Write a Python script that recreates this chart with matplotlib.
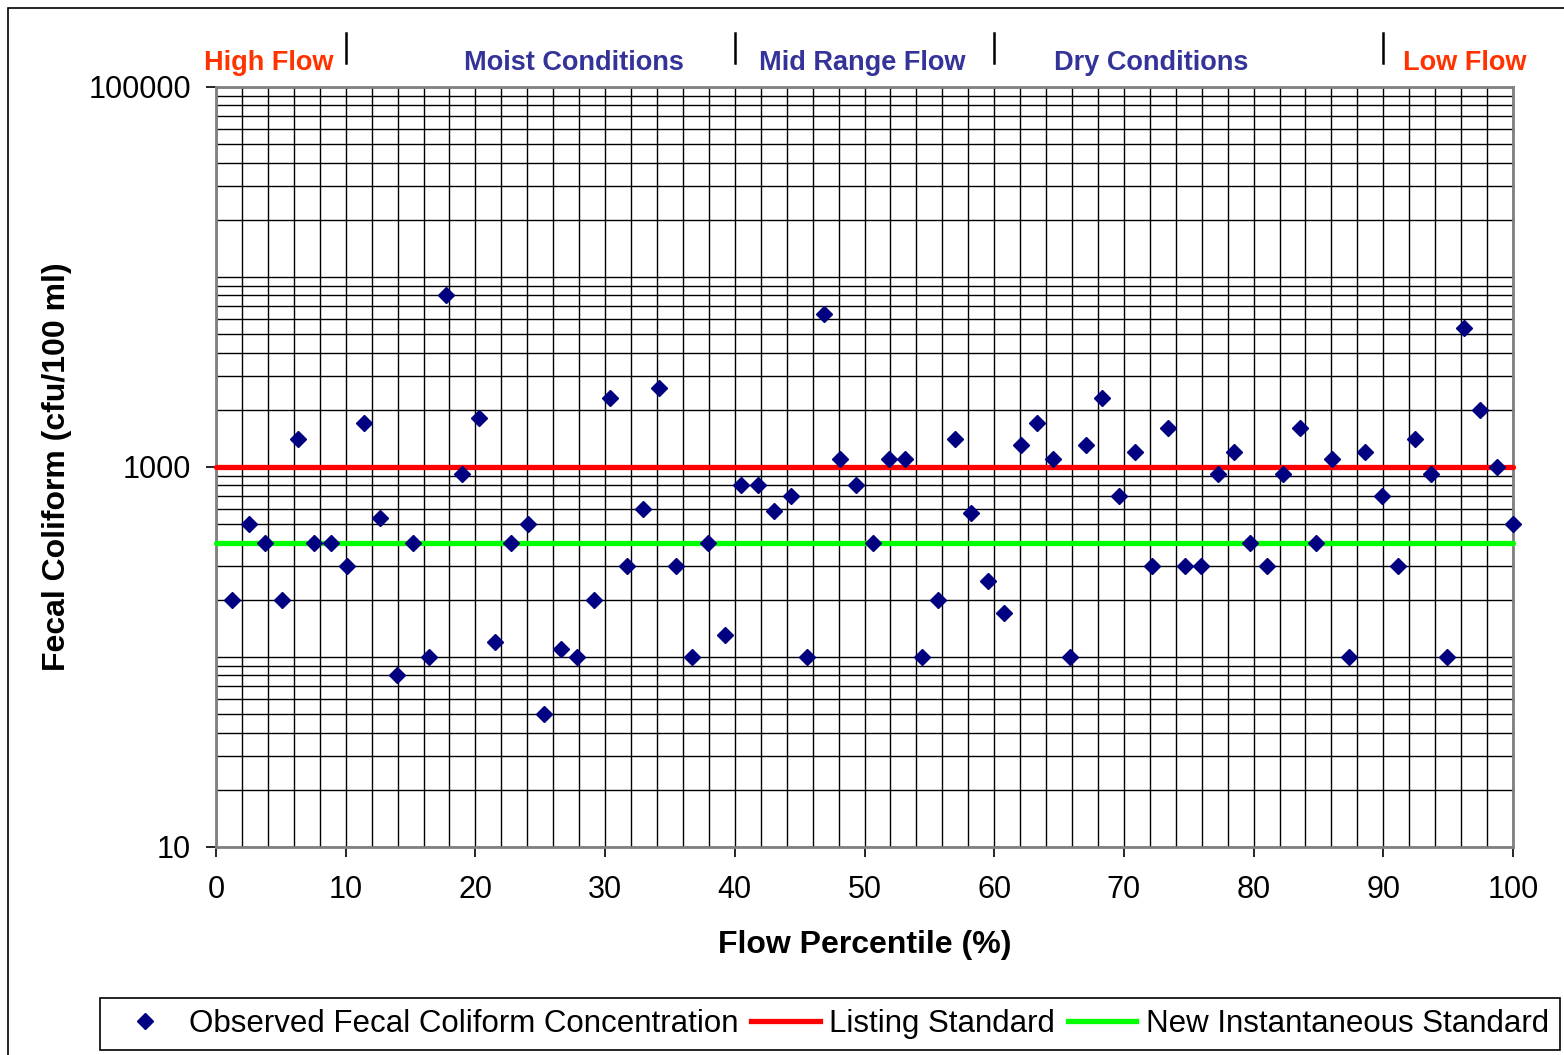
import numpy as np
import matplotlib
matplotlib.use("Agg")
from matplotlib import pyplot as plt
from matplotlib import ticker
from matplotlib.lines import Line2D
from matplotlib.patches import Rectangle
import matplotlib.transforms as mtransforms

plt.rcParams['font.family'] = ['Liberation Sans', 'DejaVu Sans']

# Flow percentile (%) of each sample
flow_percentile = [
    1.27, 2.53, 3.80, 5.06, 6.33, 7.59, 8.86, 10.13, 11.39, 12.66,
    13.92, 15.19, 16.46, 17.72, 18.99, 20.25, 21.52, 22.78, 24.05, 25.32,
    26.58, 27.85, 29.11, 30.38, 31.65, 32.91, 34.18, 35.44, 36.71, 37.97,
    39.24, 40.51, 41.77, 43.04, 44.30, 45.57, 46.84, 48.10, 49.37, 50.63,
    51.90, 53.16, 54.43, 55.70, 56.96, 58.23, 59.49, 60.76, 62.03, 63.29,
    64.56, 65.82, 67.09, 68.35, 69.62, 70.89, 72.15, 73.42, 74.68, 75.95,
    77.22, 78.48, 79.75, 81.01, 82.28, 83.54, 84.81, 86.08, 87.34, 88.61,
    89.87, 91.14, 92.41, 93.67, 94.94, 96.20, 97.47, 98.73, 100.00,
]

# Observed fecal coliform (cfu/100 ml)
fecal_coliform = [
    200, 500, 400, 200, 1400, 400, 400, 300, 1700, 540,
    80, 400, 100, 8000, 920, 1800, 120, 400, 500, 50,
    110, 100, 200, 2300, 300, 600, 2600, 300, 100, 400,
    130, 800, 800, 590, 700, 100, 6400, 1100, 800, 400,
    1100, 1100, 100, 200, 1400, 570, 250, 170, 1300, 1700,
    1100, 100, 1300, 2300, 700, 1200, 300, 1600, 300, 300,
    920, 1200, 400, 300, 920, 1600, 400, 1100, 100, 1200,
    700, 300, 1400, 920, 100, 5400, 2000, 1000, 500,
]

listing_standard = 1000
instantaneous_standard = 400

# flow zones along the top
zone_names = ["High Flow", "Moist Conditions", "Mid Range Flow", "Dry Conditions", "Low Flow"]
zone_colors = ["#FF3300", "#333399", "#333399", "#333399", "#FF3300"]
zone_label_x = [4.1, 27.6, 49.8, 72.1, 96.3]
zone_breaks = [10, 40, 60, 90]

fig = plt.figure(figsize=(15.64, 10.55), dpi=100)
ax = fig.add_axes([216 / 1564, 1 - 847 / 1055, (1513 - 216) / 1564, (847 - 87) / 1055])

ax.set_yscale('log')
ax.set_xlim(0, 100)
ax.set_ylim(10, 100000)

# grid
ax.set_xticks(np.arange(0, 101, 10))
ax.xaxis.set_minor_locator(ticker.MultipleLocator(2))
ax.set_yticks([10, 1000, 100000], labels=['10', '1000', '100000'])
ax.yaxis.set_minor_locator(ticker.LogLocator(base=10, subs=np.arange(1, 10), numticks=50))
ax.yaxis.set_minor_formatter(ticker.NullFormatter())
ax.grid(True, which='both', color='black', lw=1.0, zorder=0)
ax.set_axisbelow(True)

ax.tick_params(which='major', direction='out', length=7, width=1.2, labelsize=22, color='black')
ax.tick_params(axis='y', which='major', pad=11)
ax.tick_params(axis='x', which='major', pad=13)
ax.tick_params(which='minor', length=0)
for s in ax.spines.values():
    s.set_color('#808080')
    s.set_linewidth(2)

# standards
ax.axhline(listing_standard, color='#FF0000', lw=3.8, solid_capstyle='round', clip_on=False, zorder=3)
ax.axhline(instantaneous_standard, color='#00FF00', lw=3.8, solid_capstyle='round', clip_on=False, zorder=3)

# observations
ax.plot(flow_percentile, fecal_coliform, ls='none', marker='D', ms=8, color='#000080',
        clip_on=False, zorder=4)

ax.set_xlabel('Flow Percentile (%)', fontsize=23, fontweight='bold', labelpad=18)
ax.set_ylabel('Fecal Coliform (cfu/100 ml)', fontsize=23, fontweight='bold', labelpad=12)

# zone labels and separators above the plot
trans = mtransforms.blended_transform_factory(ax.transData, ax.transAxes)
for name, col, xpos in zip(zone_names, zone_colors, zone_label_x):
    ax.text(xpos, 1.0224, name, transform=trans, ha='center', va='baseline',
            fontsize=19.5, fontweight='bold', color=col)
for xb in zone_breaks:
    ax.plot([xb, xb], [1.0316, 1.071], transform=trans, color='black', lw=1.8, clip_on=False)

# outer frame
fig.patches.append(Rectangle((8 / 1564, -0.05), 1.1, 1.05 - 8 / 1055, transform=fig.transFigure,
                             fill=False, edgecolor='black', lw=1.2))

handles = [
    Line2D([], [], ls='none', marker='D', ms=8, color='#000080', label='Observed Fecal Coliform Concentration'),
    Line2D([], [], color='#FF0000', lw=3.8, label='Listing Standard'),
    Line2D([], [], color='#00FF00', lw=3.8, label='New Instantaneous Standard'),
]
leg = fig.legend(handles=handles, loc='lower left', bbox_to_anchor=(100 / 1564, 5 / 1055), ncol=3,
                 fontsize=22.5, frameon=True, fancybox=False, edgecolor='black', framealpha=1,
                 handlelength=2.2, handletextpad=0.3, columnspacing=0.4, borderpad=0.35,
                 borderaxespad=0)
leg.get_frame().set_linewidth(1.2)

fig.savefig('out.png', dpi=100)
